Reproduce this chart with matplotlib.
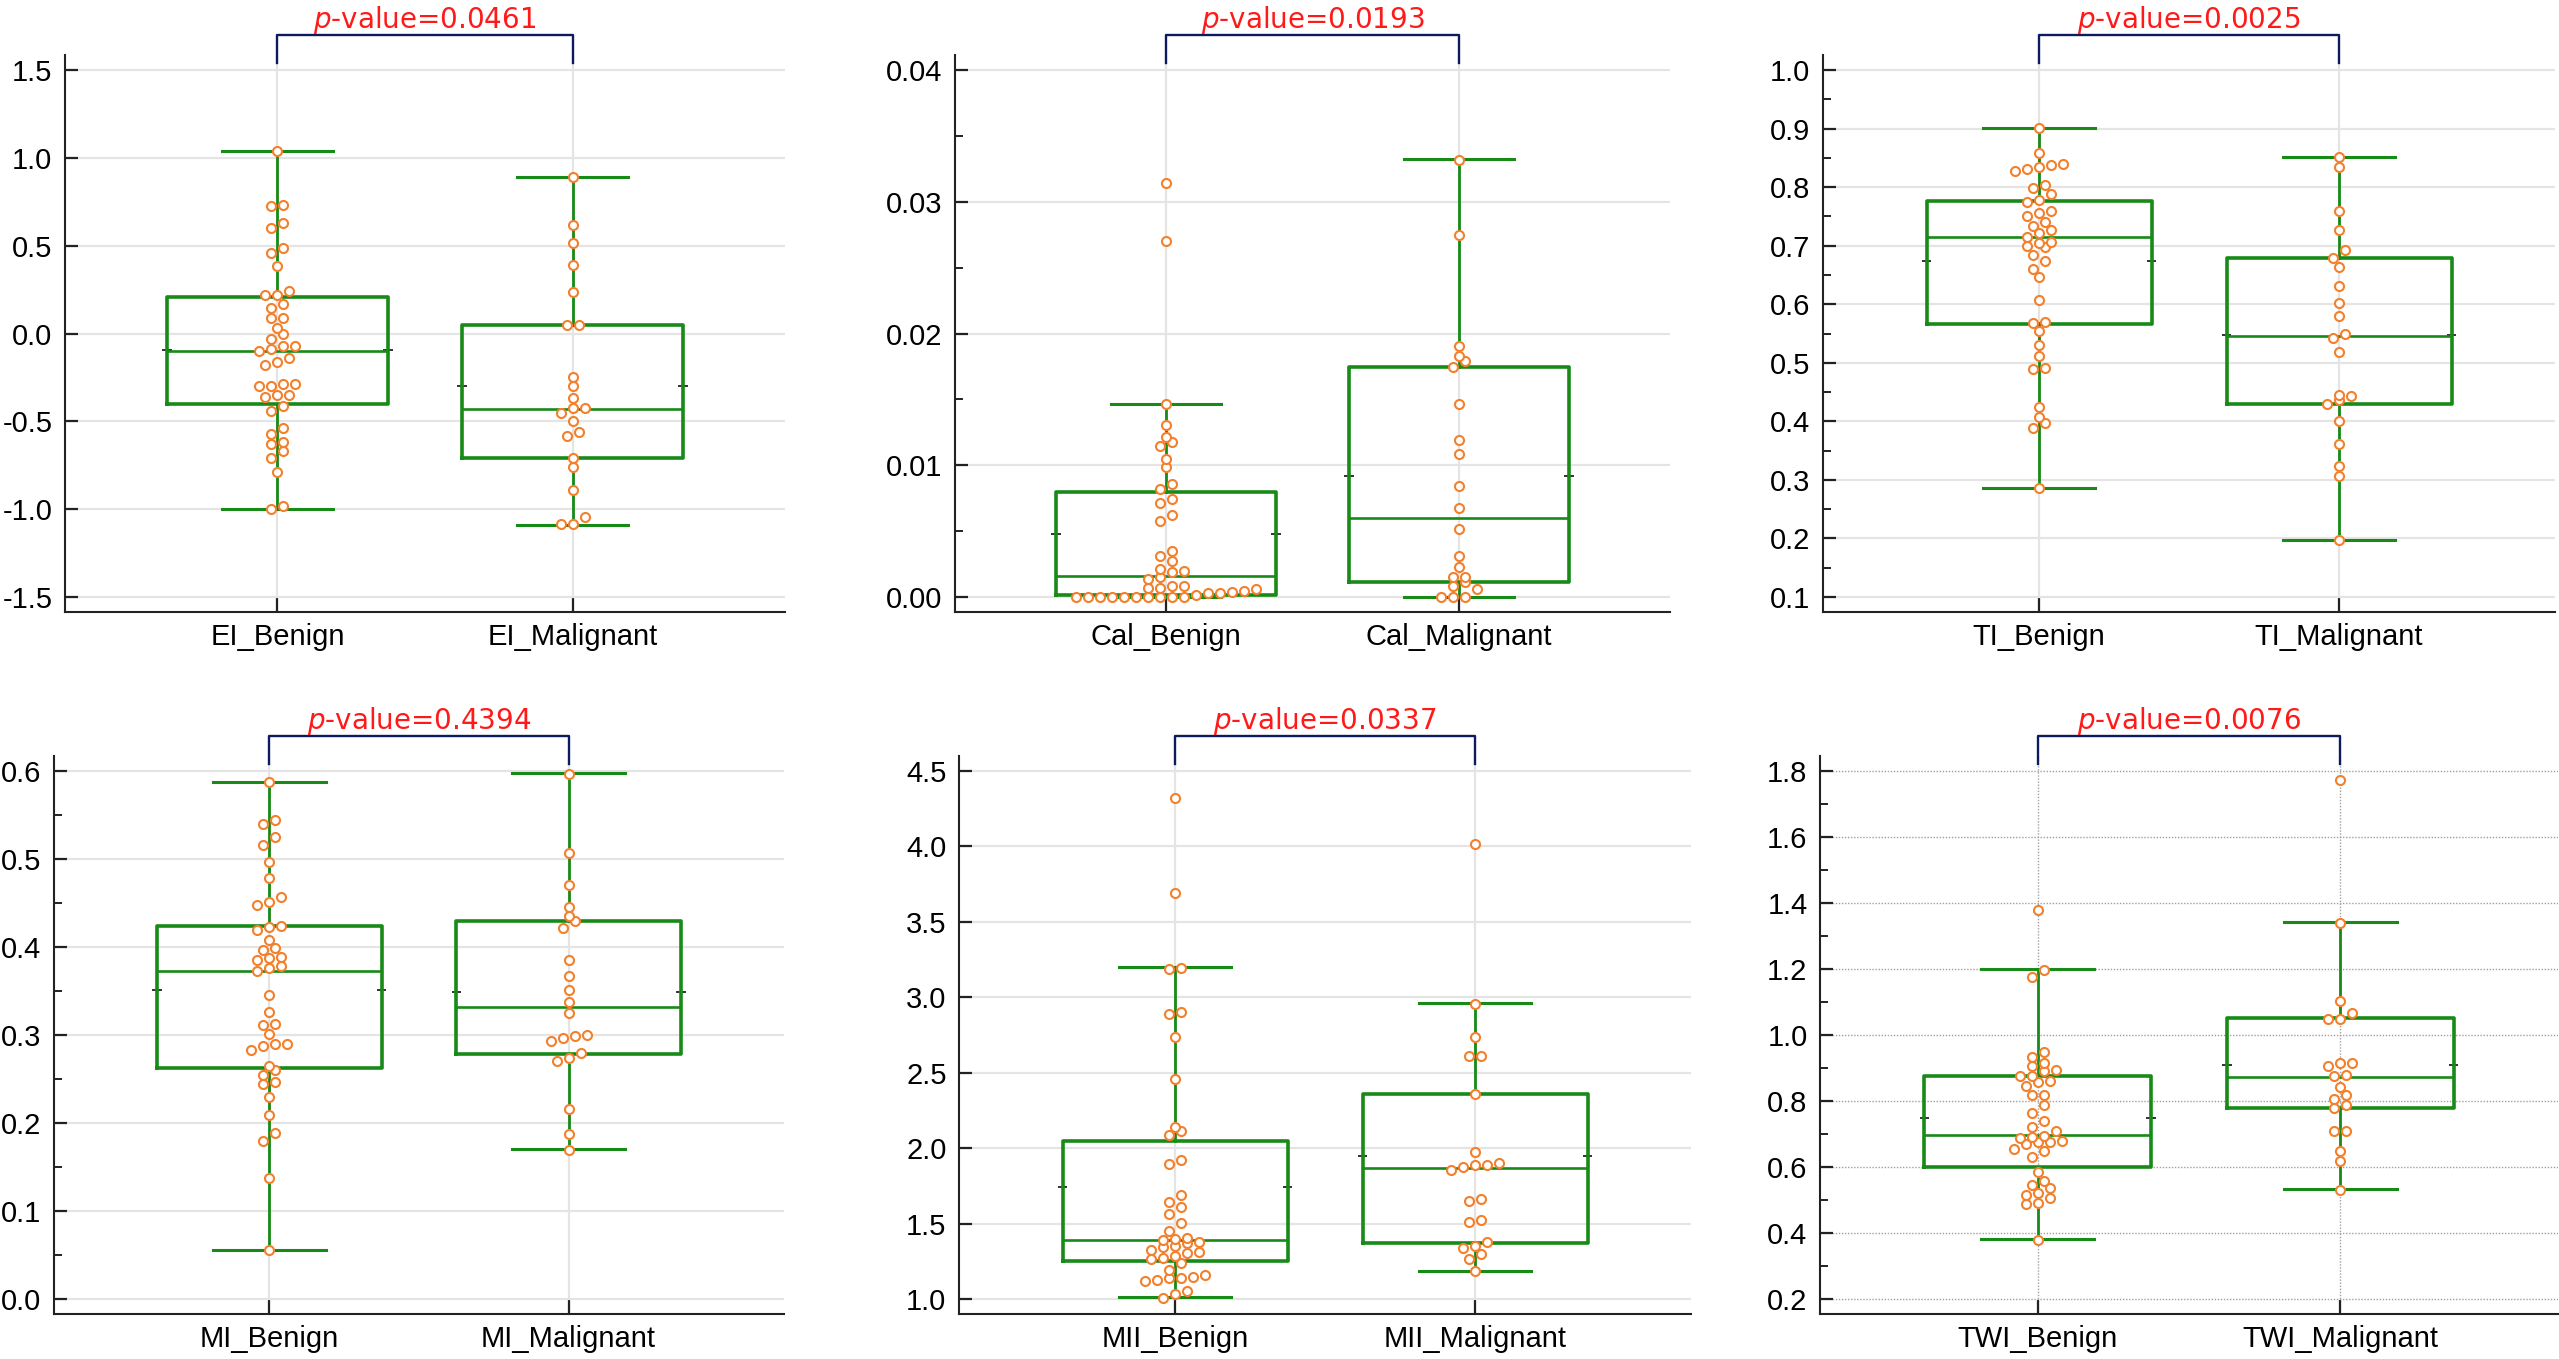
import numpy as np
import matplotlib
matplotlib.use("Agg")
import matplotlib.pyplot as plt
from matplotlib.ticker import MultipleLocator

W, H = 2559, 1359
plt.rcParams["mathtext.fontset"] = "dejavusans"

# -----------------------------
# Data
# -----------------------------
ei_benign = [1.037, 0.733, 0.725, 0.63, 0.60, 0.486, 0.457, 0.385, 0.24, 0.22, 0.22,
             0.17, 0.146, 0.09, 0.086, 0.03, 0.0, -0.03, -0.07, -0.07, -0.09, -0.10,
             -0.14, -0.16, -0.18, -0.29, -0.29, -0.30, -0.30, -0.35, -0.36, -0.35,
             -0.41, -0.44, -0.54, -0.57, -0.62, -0.63, -0.67, -0.71, -0.79, -0.98, -1.0]
ei_malignant = [0.893, 0.618, 0.515, 0.39, 0.235, 0.048, 0.048, -0.247, -0.30, -0.366,
                -0.424, -0.45, -0.424, -0.50, -0.56, -0.586, -0.706, -0.76, -0.89,
                -1.046, -1.087, -1.087]
# whislo, q1, median, q3, whishi
ei_stats = [[-1.0, -0.40, -0.10, 0.206, 1.04], [-1.09, -0.706, -0.43, 0.05, 0.893]]
ei_means = [-0.096, -0.30]

cal_benign = [0.03144, 0.0270, 0.01462, 0.01309, 0.01213, 0.01175, 0.01143, 0.01047,
              0.00983, 0.0086, 0.0082, 0.00745, 0.00716, 0.0062, 0.0058, 0.0035, 0.0031,
              0.0027, 0.0021, 0.0020, 0.0019, 0.00154, 0.0014, 0.0008, 0.0008, 0.00066,
              0.00066, 0.00058, 0.00045, 0.0004, 0.00033, 0.00028, 0.00015,
              0.0, 0.0, 0.0, 0.0, 0.0, 0.0, 0.0, 0.0, 0.0, 0.0]
cal_malignant = [0.0332, 0.02749, 0.01903, 0.01829, 0.01791, 0.01749, 0.01462, 0.01191,
                 0.01089, 0.00846, 0.00674, 0.00514, 0.00313, 0.00227, 0.00153, 0.00153,
                 0.00112, 0.00083, 0.00057, 0.0, 0.0, 0.0]
cal_stats = [[0.0, 0.00016, 0.0016, 0.0080, 0.01462], [0.0, 0.00115, 0.0060, 0.01749, 0.03323]]
cal_means = [0.0048, 0.0092]

ti_benign = [0.901, 0.859, 0.839, 0.837, 0.835, 0.831, 0.828, 0.803, 0.799, 0.788, 0.778,
             0.775, 0.760, 0.756, 0.751, 0.740, 0.733, 0.727, 0.722, 0.714, 0.706, 0.704,
             0.697, 0.699, 0.684, 0.674, 0.661, 0.647, 0.607, 0.568, 0.569, 0.554, 0.530,
             0.512, 0.491, 0.489, 0.424, 0.408, 0.397, 0.389, 0.286]
ti_malignant = [0.851, 0.834, 0.760, 0.727, 0.692, 0.679, 0.663, 0.631, 0.602, 0.580,
                0.549, 0.542, 0.519, 0.445, 0.443, 0.437, 0.430, 0.400, 0.362, 0.324,
                0.306, 0.197]
ti_stats = [[0.286, 0.567, 0.7145, 0.776, 0.901], [0.197, 0.430, 0.546, 0.679, 0.851]]
ti_means = [0.674, 0.547]

mi_benign = [0.588, 0.544, 0.540, 0.525, 0.516, 0.497, 0.479, 0.457, 0.451, 0.448, 0.424,
             0.423, 0.419, 0.408, 0.399, 0.397, 0.389, 0.388, 0.385, 0.378, 0.376, 0.373,
             0.346, 0.326, 0.313, 0.311, 0.301, 0.290, 0.290, 0.287, 0.283, 0.265, 0.260,
             0.254, 0.247, 0.244, 0.230, 0.209, 0.189, 0.180, 0.138, 0.056]
mi_malignant = [0.597, 0.507, 0.470, 0.445, 0.435, 0.429, 0.422, 0.385, 0.367, 0.351,
                0.338, 0.325, 0.300, 0.299, 0.297, 0.293, 0.279, 0.274, 0.270, 0.216,
                0.188, 0.169]
mi_stats = [[0.056, 0.262, 0.373, 0.424, 0.588], [0.170, 0.278, 0.332, 0.430, 0.598]]
mi_means = [0.351, 0.349]

mii_benign = [4.321, 3.693, 3.197, 3.189, 2.905, 2.891, 2.736, 2.458, 2.141, 2.113, 2.084,
              1.920, 1.895, 1.688, 1.646, 1.612, 1.566, 1.504, 1.453, 1.405, 1.399, 1.391,
              1.377, 1.368, 1.348, 1.343, 1.326, 1.311, 1.306, 1.283, 1.269, 1.263, 1.241,
              1.193, 1.159, 1.144, 1.136, 1.136, 1.127, 1.122, 1.051, 1.031, 1.008]
mii_malignant = [4.018, 2.956, 2.736, 2.614, 2.608, 2.359, 1.977, 1.900, 1.886, 1.886,
                 1.872, 1.858, 1.665, 1.651, 1.524, 1.510, 1.377, 1.348, 1.340, 1.300,
                 1.263, 1.187]
mii_stats = [[1.014, 1.249, 1.391, 2.048, 3.20], [1.187, 1.374, 1.866, 2.359, 2.959]]
mii_means = [1.745, 1.948]

twi_benign = [1.378, 1.197, 1.175, 0.948, 0.933, 0.914, 0.907, 0.894, 0.890, 0.877, 0.875,
              0.862, 0.858, 0.845, 0.819, 0.819, 0.788, 0.765, 0.739, 0.720, 0.710, 0.694,
              0.690, 0.688, 0.679, 0.677, 0.675, 0.671, 0.655, 0.649, 0.630, 0.585, 0.559,
              0.546, 0.535, 0.520, 0.514, 0.505, 0.490, 0.488, 0.378]
twi_malignant = [1.774, 1.339, 1.104, 1.066, 1.049, 1.049, 0.916, 0.914, 0.907, 0.879,
                 0.875, 0.843, 0.819, 0.806, 0.788, 0.778, 0.710, 0.710, 0.649, 0.617, 0.530]
twi_stats = [[0.382, 0.600, 0.697, 0.875, 1.201], [0.533, 0.778, 0.872, 1.052, 1.342]]
twi_means = [0.748, 0.910]

p_values = ["0.0461", "0.0193", "0.0025", "0.4394", "0.0337", "0.0076"]

# -----------------------------
# Style
# -----------------------------
GREEN = "#178a17"
ORANGE = "#f3802c"
NAVY = "#0d1b5e"
BOX_W = 0.75
CAP_W = 0.375
XM = 0.72

fig = plt.figure(figsize=(W / 100, H / 100), dpi=100)


def rect(l, t, r, b):
    return [l / W, 1 - b / H, (r - l) / W, (b - t) / H]


def swarm(vals, ppu_y, ppu_x, bin_px=8, step_px=12):
    v = np.sort(np.asarray(vals, dtype=float))
    xs = np.zeros(len(v))
    i = 0
    while i < len(v):
        j = i
        while j + 1 < len(v) and (v[j + 1] - v[i]) * ppu_y < bin_px:
            j += 1
        n = j - i + 1
        xs[i:j + 1] = (np.arange(n) - (n - 1) / 2) * step_px / ppu_x
        i = j + 1
    return v, xs


def panel(r, names, groups, stats, means, yticks, dec, minor, pval, dotted=False):
    ax = fig.add_axes(rect(*r))
    lo, hi = yticks[0], yticks[-1]
    m = 0.0285 * (hi - lo)
    ax.set_ylim(lo - m, hi + m)
    ax.set_xlim(1 - XM, 2 + XM)
    w_px = r[2] - r[0]
    h_px = r[3] - r[1]
    ppu_x = w_px / (1 + 2 * XM)
    ppu_y = h_px / (hi - lo + 2 * m)

    # grid
    if dotted:
        ax.grid(True, which="major", color="#a0a0a0", lw=1.0, linestyle=(0, (1, 1.2)))
    else:
        ax.grid(True, which="major", color="#e4e4e4", lw=1.6)
    ax.set_axisbelow(True)

    # boxes
    bstats = []
    for s in stats:
        bstats.append({"whislo": s[0], "q1": s[1], "med": s[2], "q3": s[3],
                       "whishi": s[4], "fliers": []})
    ax.bxp(bstats, positions=[1, 2], widths=BOX_W, capwidths=CAP_W, showfliers=False,
           boxprops=dict(color=GREEN, lw=2.6),
           whiskerprops=dict(color=GREEN, lw=2.0),
           capprops=dict(color=GREEN, lw=2.2),
           medianprops=dict(color=GREEN, lw=1.9))

    # mean marks on the box edges
    for pos, mu in zip([1, 2], means):
        for edge in (pos - BOX_W / 2, pos + BOX_W / 2):
            ax.plot([edge - 0.016, edge + 0.016], [mu, mu], color="#333333", lw=1.4,
                    zorder=1.9, solid_capstyle="butt")

    # points
    for pos, vals in zip([1, 2], groups):
        v, xs = swarm(vals, ppu_y, ppu_x)
        ax.plot(pos + xs, v, "o", ms=6.5, mfc="white", mec=ORANGE, mew=1.5,
                zorder=4, clip_on=False)

    # axes
    for sp in ["top", "right"]:
        ax.spines[sp].set_visible(False)
    for sp in ["left", "bottom"]:
        ax.spines[sp].set_color("#222222")
        ax.spines[sp].set_linewidth(1.5)
    ax.set_xticks([1, 2])
    ax.set_xticklabels(names, family="Liberation Sans", fontsize=21)
    ax.set_yticks(yticks)
    ax.set_yticklabels([f"{t:.{dec}f}" for t in yticks], family="Liberation Sans",
                       fontsize=21)
    if minor:
        ax.yaxis.set_minor_locator(MultipleLocator(minor))
    ax.tick_params(axis="y", which="major", direction="in", length=9.5, width=1.6,
                   color="#222222", pad=9)
    ax.tick_params(axis="y", which="minor", direction="in", length=5.5, width=1.4,
                   color="#222222")
    ax.tick_params(axis="x", which="major", direction="in", length=10, width=1.6,
                   color="#222222", pad=8)

    # bracket with p-value
    tr = ax.get_xaxis_transform()
    y_top = 1 + 20 / h_px
    y_end = 1 - 8 / h_px
    ax.plot([1, 1, 2, 2], [y_end, y_top, y_top, y_end], color=NAVY, lw=1.7,
            transform=tr, clip_on=False, solid_joinstyle="round")
    ax.text(1.5, 1 + 27 / h_px, r"$p$-value=" + pval, transform=tr, ha="center",
            va="baseline", color="#ff1a1a", fontsize=20, family="DejaVu Sans")
    return ax


# -----------------------------
# Panels
# -----------------------------
panel((65, 55, 785, 612), ["EI_Benign", "EI_Malignant"], [ei_benign, ei_malignant],
      ei_stats, ei_means, [-1.5, -1.0, -0.5, 0.0, 0.5, 1.0, 1.5], 1, None, p_values[0])
panel((955, 55, 1670, 612), ["Cal_Benign", "Cal_Malignant"], [cal_benign, cal_malignant],
      cal_stats, cal_means, [0.0, 0.01, 0.02, 0.03, 0.04], 2, 0.005, p_values[1])
panel((1823, 55, 2555, 612), ["TI_Benign", "TI_Malignant"], [ti_benign, ti_malignant],
      ti_stats, ti_means, [0.1, 0.2, 0.3, 0.4, 0.5, 0.6, 0.7, 0.8, 0.9, 1.0], 1, 0.05,
      p_values[2])
panel((54, 756, 784, 1314), ["MI_Benign", "MI_Malignant"], [mi_benign, mi_malignant],
      mi_stats, mi_means, [0.0, 0.1, 0.2, 0.3, 0.4, 0.5, 0.6], 1, 0.05, p_values[3])
panel((959, 756, 1691, 1314), ["MII_Benign", "MII_Malignant"], [mii_benign, mii_malignant],
      mii_stats, mii_means, [1.0, 1.5, 2.0, 2.5, 3.0, 3.5, 4.0, 4.5], 1, None, p_values[4])
panel((1820, 756, 2558, 1314), ["TWI_Benign", "TWI_Malignant"], [twi_benign, twi_malignant],
      twi_stats, twi_means, [0.2, 0.4, 0.6, 0.8, 1.0, 1.2, 1.4, 1.6, 1.8], 1, 0.1,
      p_values[5], dotted=True)

fig.savefig("out.png", dpi=100)
